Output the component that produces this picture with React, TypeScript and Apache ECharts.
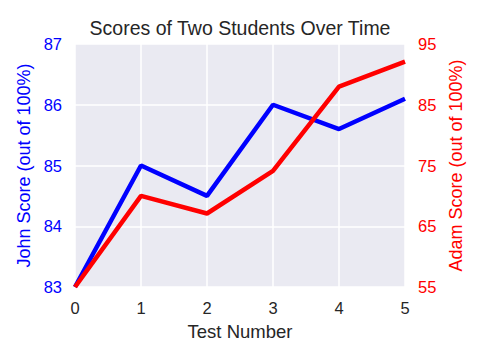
import React, { useEffect, useRef } from "react";
import * as echarts from "echarts";

const tests = [0, 1, 2, 3, 4, 5];
const johnScores = [83, 85, 84.5, 86, 85.6, 86.1];
const adamScores = [55, 70, 67.1, 74.1, 88, 92.1];

export default function App() {
  const ref = useRef<HTMLDivElement>(null);
  useEffect(() => {
    const chart = echarts.init(ref.current!, undefined, { renderer: "svg" });
    const font = "Liberation Sans, Arial, sans-serif";
    chart.setOption({
      animation: false,
      backgroundColor: "#ffffff",
      title: {
        text: "Scores of Two Students Over Time",
        left: "center",
        top: 13,
        textStyle: { fontFamily: font, fontSize: 19.5, fontWeight: "normal", color: "#262626" },
      },
      grid: { left: 75, right: 75, top: 44, bottom: 73, backgroundColor: "#EAEAF2", show: true, borderWidth: 0 },
      xAxis: {
        type: "value",
        min: 0,
        max: 5,
        interval: 1,
        name: "Test Number",
        nameLocation: "middle",
        nameGap: 35,
        nameTextStyle: { fontFamily: font, fontSize: 18.5, color: "#262626" },
        axisLine: { show: false },
        axisTick: { show: false },
        axisLabel: { fontFamily: font, fontSize: 16.5, color: "#262626", margin: 12 },
        splitLine: { show: true, lineStyle: { color: "#ffffff", width: 1.5 } },
      },
      yAxis: [
        {
          type: "value",
          min: 83,
          max: 87,
          interval: 1,
          position: "left",
          name: "John Score (out of 100%)",
          nameLocation: "middle",
          nameGap: 39,
          nameTextStyle: { fontFamily: font, fontSize: 18, color: "#0000ff" },
          axisLine: { show: false },
          axisTick: { show: false },
          axisLabel: { fontFamily: font, fontSize: 16.5, color: "#0000ff", margin: 13 },
          splitLine: { show: true, lineStyle: { color: "#ffffff", width: 1.5 } },
        },
        {
          type: "value",
          min: 55,
          max: 95,
          interval: 10,
          position: "right",
          name: "Adam Score (out of 100%)",
          nameLocation: "middle",
          nameGap: 33,
          nameTextStyle: { fontFamily: font, fontSize: 18, color: "#ff0000" },
          axisLine: { show: false },
          axisTick: { show: false },
          axisLabel: { fontFamily: font, fontSize: 16.5, color: "#ff0000", margin: 13 },
          splitLine: { show: false },
        },
      ],
      series: [
        {
          type: "line",
          yAxisIndex: 0,
          data: tests.map((t, i) => [t, johnScores[i]]),
          symbol: "none",
          lineStyle: { color: "#0000ff", width: 4.5 },
        },
        {
          type: "line",
          yAxisIndex: 1,
          data: tests.map((t, i) => [t, adamScores[i]]),
          symbol: "none",
          lineStyle: { color: "#ff0000", width: 4.5 },
        },
      ],
    });
    return () => chart.dispose();
  }, []);
  return <div ref={ref} style={{ width: 480, height: 360, position: "absolute", left: 0, top: 0 }} />;
}
